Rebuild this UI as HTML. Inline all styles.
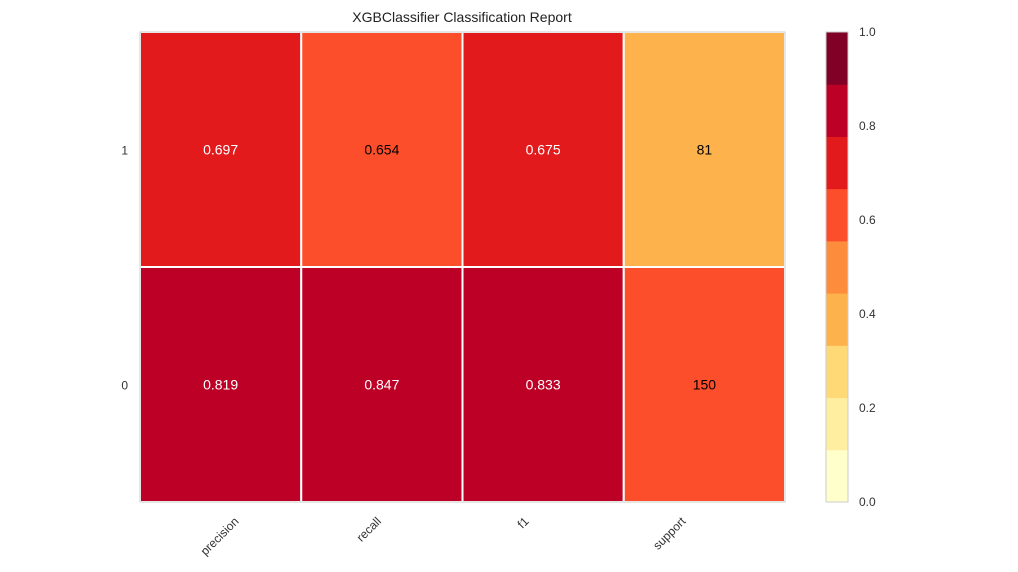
<!DOCTYPE html>
<html><head><meta charset="utf-8"><style>
body{margin:0;background:#fff;}
svg{display:block;font-family:"Liberation Sans","DejaVu Sans",sans-serif;}
</style></head><body>
<svg id="c" width="1018" height="572" viewBox="0 0 1018 572">
<text x="462" y="22" text-anchor="middle" font-size="14" fill="#222">XGBClassifier Classification Report</text>
<g id="cells"></g>
<g id="cbar"></g>
</svg>
<script>
const classes = ["1","0"];
const metrics = ["precision","recall","f1","support"];
const row1 = [0.697,0.654,0.675,81];
const row0 = [0.819,0.847,0.833,150];
const cbTicks = [0.0,0.2,0.4,0.6,0.8,1.0];
const palette = ["#ffffcc","#ffeda0","#fed976","#feb24c","#fd8d3c","#fc4e2a","#e31a1c","#bd0026","#800026"];
const NS="http://www.w3.org/2000/svg";
const X0=140,X1=785,Y0=32,Y1=502;
const colW=(X1-X0)/metrics.length, rowH=(Y1-Y0)/classes.length;
const labelShift=[-1,-13,-20,-35];
function xPos(i){return X0+i*colW;}
function yPos(j){return Y0+j*rowH;}
function mk(t,a,p){const e=document.createElementNS(NS,t);for(const k in a)e.setAttribute(k,a[k]);p.appendChild(e);return e;}
const rows=[row1,row0];
const supTotal=row1[3]+row0[3];
const cells=document.getElementById('cells');
function colorIdx(v){return Math.min(8,Math.floor(v*9));}
rows.forEach((r,j)=>{
  r.forEach((v,i)=>{
    const nv = i===3 ? v/supTotal : v;
    const ci=colorIdx(nv);
    const rc=mk('rect',{x:xPos(i),y:yPos(j),width:colW,height:rowH,fill:palette[ci],stroke:'#fff','stroke-width':2},cells);
    
    
    const t=mk('text',{x:xPos(i)+colW/2,y:yPos(j)+rowH/2+5,'text-anchor':'middle','font-size':14,fill:ci>=6?'#fff':'#000'},cells);
    t.textContent = i===3 ? String(v) : v.toFixed(3);
    
    
  });
  const yl=mk('text',{x:128,y:yPos(j)+rowH/2+5,'text-anchor':'end','font-size':12,fill:'#333'},cells);
  yl.textContent=classes[j];
  
  
});
const fr=mk('rect',{x:X0,y:Y0,width:X1-X0,height:Y1-Y0,fill:'none',stroke:'#ccc','stroke-width':1},cells);


metrics.forEach((m,i)=>{
  const t=mk('text',{x:0,y:0,'text-anchor':'middle','font-size':12,fill:'#333'},cells);
  t.textContent=m;
  
  
  const w=t.getComputedTextLength();
  const ext=(w+12)*0.7071;
  const cx=xPos(i)+colW/2+labelShift[i], cy=515+ext/2;
  t.setAttribute('x',cx);
  t.setAttribute('y',cy+4);
  t.setAttribute('transform',`rotate(-45 ${cx} ${cy})`);
});
const cb=document.getElementById('cbar');
const CX=826,CW=22;
function cbY(v){return Y1-(Y1-Y0)*v;}
palette.forEach((c,k)=>{
  const r=mk('rect',{x:CX,y:cbY((k+1)/9),width:CW,height:cbY(k/9)-cbY((k+1)/9)+0.5,fill:c},cb);
  
  
});
const cf=mk('rect',{x:CX,y:Y0,width:CW,height:Y1-Y0,fill:'none',stroke:'#ccc'},cb);


cbTicks.forEach(v=>{
  const t=mk('text',{x:859,y:cbY(v)+4,'font-size':12,fill:'#333'},cb);
  t.textContent=v.toFixed(1);
  
  
});
</script>
</body></html>
